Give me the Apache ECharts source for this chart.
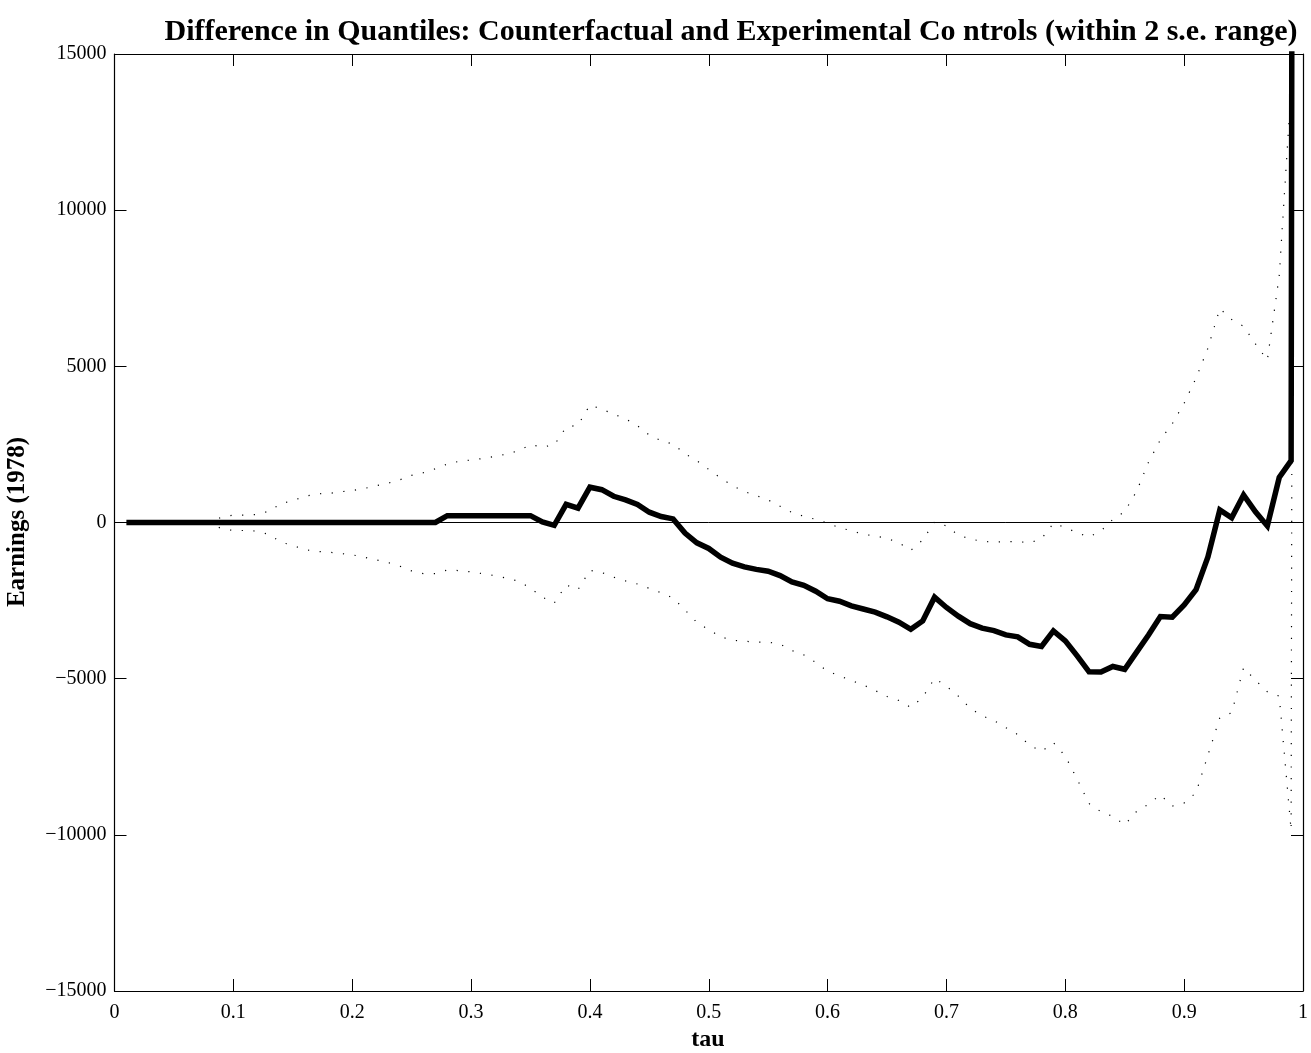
<!DOCTYPE html>
<html>
<head>
<meta charset="utf-8">
<script src="https://cdn.jsdelivr.net/npm/echarts@6/dist/echarts.min.js"></script>
<style>
html,body{margin:0;padding:0;background:#fff;}
#chart{width:1311px;height:1053px;}
</style>
</head>
<body>
<div id="chart"></div>
<script>
// ---- data ----
const tau = [
0.01,0.02,0.03,0.04,0.05,0.06,0.07,0.08,0.09,0.10,
0.11,0.12,0.13,0.14,0.15,0.16,0.17,0.18,0.19,0.20,
0.21,0.22,0.23,0.24,0.25,0.26,0.27,0.28,0.29,0.30,
0.31,0.32,0.33,0.34,0.35,0.36,0.37,0.38,0.39,0.40,
0.41,0.42,0.43,0.44,0.45,0.46,0.47,0.48,0.49,0.50,
0.51,0.52,0.53,0.54,0.55,0.56,0.57,0.58,0.59,0.60,
0.61,0.62,0.63,0.64,0.65,0.66,0.67,0.68,0.69,0.70,
0.71,0.72,0.73,0.74,0.75,0.76,0.77,0.78,0.79,0.80,
0.81,0.82,0.83,0.84,0.85,0.86,0.87,0.88,0.89,0.90,
0.91,0.92,0.93,0.94,0.95,0.96,0.97,0.98,0.99,0.9925
];
const difference = [
0,0,0,0,0,0,0,0,0,0,
0,0,0,0,0,0,0,0,0,0,
0,0,0,0,0,0,0,220,220,220,
220,220,220,220,220,20,-90,580,460,1130,
1050,840,725,575,330,190,115,-340,-650,-830,
-1110,-1300,-1420,-1500,-1560,-1700,-1900,-2010,-2200,-2440,
-2520,-2670,-2770,-2870,-3020,-3190,-3420,-3150,-2390,-2720,
-3000,-3240,-3380,-3460,-3600,-3660,-3900,-3970,-3470,-3790,
-4270,-4780,-4790,-4610,-4700,-4150,-3600,-3010,-3030,-2640,
-2150,-1100,400,150,880,340,-110,1440,1980,60000
];
const upperBand = [
0,0,0,0,0,0,0,0,170,235,
235,256,363,600,704,832,917,928,981,1024,
1088,1173,1259,1365,1510,1595,1720,1870,1960,2000,
2050,2115,2190,2300,2490,2420,2480,3050,3120,3760,
3630,3470,3320,3100,2800,2620,2510,2200,1980,1700,
1420,1180,990,860,720,520,320,200,100,-20,
-170,-260,-380,-430,-510,-650,-890,-560,20,-110,
-400,-530,-600,-630,-610,-610,-650,-520,-30,-160,
-330,-460,-270,100,350,1000,1930,2650,3160,3820,
4620,5580,6850,6500,6280,5720,5200,7900,13900,80000
];
const lowerBand = [
0,0,0,0,0,0,0,0,-200,-256,
-256,-277,-384,-629,-736,-864,-928,-949,-992,-1035,
-1109,-1195,-1280,-1397,-1550,-1640,-1640,-1520,-1540,-1580,
-1640,-1700,-1780,-1880,-2100,-2390,-2580,-2000,-2150,-1530,
-1600,-1750,-1870,-1970,-2110,-2250,-2420,-2800,-3200,-3430,
-3660,-3770,-3800,-3830,-3830,-3890,-4100,-4240,-4480,-4760,
-4910,-5060,-5200,-5380,-5570,-5700,-5920,-5600,-4990,-5240,
-5560,-5950,-6190,-6340,-6570,-6790,-7130,-7330,-7050,-7480,
-8220,-9000,-9260,-9410,-9680,-9250,-9020,-8720,-9080,-8980,
-8650,-7450,-6250,-6090,-4650,-5050,-5420,-5560,-9850,40000
];
const xTicks = {min: 0, max: 1, interval: 0.1};
const yTicks = {min: -15000, max: 15000, interval: 5000};
const titleText = 'Difference in Quantiles: Counterfactual and Experimental Co ntrols (within 2 s.e. range)';
const xName = 'tau';
const yName = 'Earnings (1978)';

// ---- chart ----
const pair = (ys) => tau.map((t, i) => [t, ys[i]]);
const FONT = '"Liberation Serif", "Times New Roman", serif';
const chart = echarts.init(document.getElementById('chart'), null, {renderer: 'canvas'});

const baseAxis = {
  type: 'value',
  axisLine: {show: true, onZero: false, lineStyle: {color: '#000', width: 1.2}},
  axisTick: {show: true, inside: true, length: 12, lineStyle: {color: '#000', width: 1}},
  splitLine: {show: false}
};
const minusFmt = v => (v < 0 ? '\u2212' + Math.abs(v) : String(v));

chart.setOption({
  animation: false,
  backgroundColor: '#fff',
  grid: {left: 114.5, right: 7, top: 54, bottom: 62, containLabel: false},
  xAxis: [
    Object.assign({}, baseAxis, xTicks, {position: 'bottom',
      axisLabel: {color: '#000', fontFamily: FONT, fontSize: 20, margin: 12, formatter: v => String(+v.toFixed(1))}}),
    Object.assign({}, baseAxis, xTicks, {position: 'top', axisLabel: {show: false}})
  ],
  yAxis: [
    Object.assign({}, baseAxis, yTicks, {position: 'left',
      axisLabel: {color: '#000', fontFamily: FONT, fontSize: 20, margin: 8, formatter: minusFmt}}),
    Object.assign({}, baseAxis, yTicks, {position: 'right', axisLabel: {show: false}})
  ],
  graphic: [
    {type: 'text', x: 731, y: 32, silent: true,
      style: {text: titleText, font: 'bold 30px ' + FONT, fill: '#000', align: 'center', verticalAlign: 'middle'}},
    {type: 'text', x: 708, y: 1040, silent: true,
      style: {text: xName, font: 'bold 24px ' + FONT, fill: '#000', align: 'center', verticalAlign: 'middle'}},
    {type: 'text', x: 18, y: 522, rotation: Math.PI / 2, silent: true,
      style: {text: yName, font: 'bold 25px ' + FONT, fill: '#000', align: 'center', verticalAlign: 'middle'}}
  ],
  series: [
    {type: 'line', name: 'upper', data: pair(upperBand), showSymbol: false, clip: true,
      lineStyle: {color: '#000', width: 1.2, type: [1.2, 10.5]}, z: 2},
    {type: 'line', name: 'lower', data: pair(lowerBand), showSymbol: false, clip: true,
      lineStyle: {color: '#000', width: 1.2, type: [1.2, 10.5]}, z: 2},
    {type: 'line', name: 'difference', data: pair(difference), showSymbol: false, clip: true,
      lineStyle: {color: '#000', width: 5.5, join: 'miter'}, z: 4,
      markLine: {silent: true, symbol: 'none', label: {show: false},
        lineStyle: {color: '#000', width: 1, type: 'solid'}, data: [{yAxis: 0}], z: 3}}
  ]
});
</script>
</body>
</html>
